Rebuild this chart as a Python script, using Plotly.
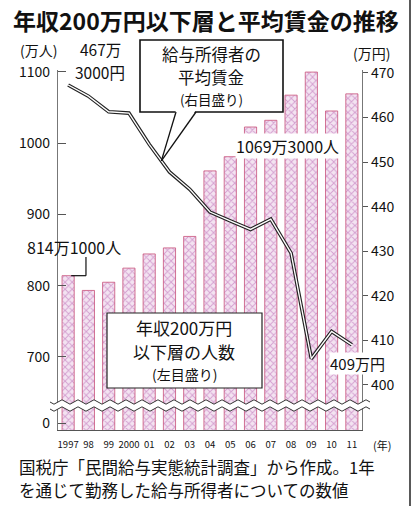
import math
import plotly.graph_objects as go

# ---- data ----
years = ['1997', '98', '99', '2000', '01', '02', '03', '04', '05', '06', '07', '08', '09', '10', '11']
low_income = [814.1, 793.4, 804.9, 824.7, 844.6, 853.1, 869.2, 961.2, 981.1,
              1022.8, 1032.2, 1067.5, 1099.9, 1045.3, 1069.3]          # 万人
avg_wage = [467.3, 464.8, 461.3, 461.0, 454.0, 447.8, 443.9, 438.8, 436.8,
            434.9, 437.2, 429.6, 405.9, 412.0, 409.0]                  # 万円
left_tickvals = [607, 700, 800, 900, 1000, 1100]
left_ticktext = ['0', '700', '800', '900', '1000', '1100']
right_tickvals = [400, 410, 420, 430, 440, 450, 460, 470]

FONT = 'Noto Sans CJK JP'
W, H = 414, 506
L, R, T, B = 58, 52, 70, 76
PW, PH = W - L - R, H - T - B
Y1 = [597.5, 1102.8]
Y2 = [389.9, 470.67]
xs = list(range(len(years)))


def fx(px):
    return (px - L) / PW


def fy(py):
    return (T + PH - py) / PH


def dx(i):
    return (i + 0.5) / len(years)


def dy2(v):
    return (v - Y2[0]) / (Y2[1] - Y2[0])


def dy1(v):
    return (v - Y1[0]) / (Y1[1] - Y1[0])


def man_label(v, unit):
    man = int(v)
    rest = round((v - man) * 10000)
    return f'{man}万{rest}{unit}' if rest else f'{man}万{unit}'


fig = go.Figure()
fig.add_trace(go.Bar(
    x=xs, y=low_income, width=0.6,
    marker=dict(color='#f3e3f1',
                pattern=dict(shape='x', fgcolor='#b45cae', size=5, solidity=0.35),
                line=dict(color='#c8507a', width=0.8)),
    hoverinfo='skip'))
fig.add_trace(go.Scatter(x=xs, y=avg_wage, yaxis='y2', mode='lines',
                         line=dict(color='#222222', width=3.6), hoverinfo='skip'))
fig.add_trace(go.Scatter(x=xs, y=avg_wage, yaxis='y2', mode='lines',
                         line=dict(color='#ffffff', width=1.3), hoverinfo='skip'))

shapes = []

# axis break across the bottom of the bars
top_pts, bot_pts = [], []
for k in range(0, 81):
    px = 50 + k * 4
    w = 2.2 * math.sin(k * math.pi / 2)
    top_pts.append((px, 402 + w))
    bot_pts.append((px, 409 + w))
band = 'M ' + ' L '.join(f'{fx(a):.4f},{fy(b):.4f}' for a, b in top_pts)
band += ' L ' + ' L '.join(f'{fx(a):.4f},{fy(b):.4f}' for a, b in reversed(bot_pts)) + ' Z'
shapes.append(dict(type='path', path=band, xref='paper', yref='paper',
                   fillcolor='white', line=dict(width=0), layer='above'))
for pts in (top_pts, bot_pts):
    p = 'M ' + ' L '.join(f'{fx(a):.4f},{fy(b):.4f}' for a, b in pts)
    shapes.append(dict(type='path', path=p, xref='paper', yref='paper',
                       line=dict(color='#333', width=1), layer='above'))

# callout box: average wage (right scale)
shapes.append(dict(type='rect', xref='paper', yref='paper',
                   x0=fx(140), x1=fx(283), y0=fy(112), y1=fy(40),
                   fillcolor='white', line=dict(color='#111', width=1.6), layer='above'))
tip_x = 4.6
tip_y = avg_wage[4] + (avg_wage[5] - avg_wage[4]) * 0.6
tri = (f'M {fx(176):.4f},{fy(110):.4f} L {dx(tip_x):.4f},{dy2(tip_y):.4f} '
       f'L {fx(196):.4f},{fy(110):.4f} Z')
shapes.append(dict(type='path', path=tri, xref='paper', yref='paper',
                   fillcolor='white', line=dict(width=0), layer='above'))
for sx in (176, 196):
    shapes.append(dict(type='line', xref='paper', yref='paper',
                       x0=fx(sx), y0=fy(112), x1=dx(tip_x), y1=dy2(tip_y),
                       line=dict(color='#111', width=1.3), layer='above'))

# callout box: people earning 2M yen or less (left scale)
shapes.append(dict(type='rect', xref='paper', yref='paper',
                   x0=fx(107), x1=fx(262), y0=fy(388), y1=fy(313),
                   fillcolor='white', line=dict(color='#222', width=1.2), layer='above'))

# leader from the 1997 count label down to its bar
lead_x = 0.88
shapes.append(dict(type='line', xref='paper', yref='paper',
                   x0=dx(lead_x), x1=dx(lead_x), y0=fy(257), y1=dy1(low_income[0]),
                   line=dict(color='#111', width=1.2), layer='above'))
shapes.append(dict(type='line', xref='paper', yref='paper',
                   x0=dx(lead_x), x1=dx(0.15), y0=dy1(low_income[0]), y1=dy1(low_income[0]),
                   line=dict(color='#111', width=1.2), layer='above'))

# frame line at the right edge
shapes.append(dict(type='line', xref='paper', yref='paper',
                   x0=fx(410), x1=fx(410), y0=fy(0), y1=fy(H),
                   line=dict(color='#222', width=1.5), layer='above'))


def ann(text, px, py, size, xanchor='center', bold=False, bg=None):
    d = dict(text=f'<b>{text}</b>' if bold else text, x=fx(px), y=fy(py),
             xref='paper', yref='paper', xanchor=xanchor, yanchor='middle',
             showarrow=False, font=dict(family=FONT, size=size, color='#111'))
    if bg:
        d['bgcolor'] = bg
        d['borderpad'] = 0
    return d


w0 = man_label(avg_wage[0], '円')
w0a, w0b = w0.split('万')
annotations = [
    ann('年収200万円以下層と平均賃金の推移', 206, 20, 23, bold=True),
    ann('(万人)', 38, 50, 14),
    ann('(万円)', 371, 53, 14),
    ann(w0a + '万', 100, 49, 15.5),
    ann(w0b, 100, 72, 15.5),
    ann('給与所得者の', 211, 54, 16.5),
    ann('平均賃金', 211, 77, 16.5),
    ann('(右目盛り)', 211, 99, 13.5),
    ann(man_label(low_income[-1], '人'), 287, 146, 16, bg='white'),
    ann(man_label(low_income[0], '人'), 74, 247, 16),
    ann('年収200万円', 184, 327, 17),
    ann('以下層の人数', 184, 351, 17),
    ann('(左目盛り)', 184, 374, 14),
    ann(man_label(avg_wage[-1], '円'), 357, 363, 15, bg='white'),
    ann('(年)', 382, 445, 11),
    ann('国税庁「民間給与実態統計調査」から作成。1年', 17, 467, 16.5, xanchor='left'),
    ann('を通じて勤務した給与所得者についての数値', 17, 490, 16.5, xanchor='left'),
]

fig.update_layout(
    width=W, height=H, margin=dict(l=L, r=R, t=T, b=B, pad=0),
    paper_bgcolor='white', plot_bgcolor='white', showlegend=False,
    bargap=0.4,
    font=dict(family=FONT, color='#111'),
    xaxis=dict(range=[-0.5, len(years) - 0.5], tickvals=xs, ticktext=years,
               showgrid=False, zeroline=False, showline=True, linecolor='#555',
               linewidth=1, ticks='', tickangle=0, ticklabelstandoff=6,
               tickfont=dict(size=9.5, family=FONT)),
    yaxis=dict(range=Y1, tickvals=left_tickvals, ticktext=left_ticktext,
               showgrid=False, zeroline=False, showline=True, linecolor='#777',
               linewidth=1.2, ticks='inside', ticklen=8, tickcolor='#555',
               tickfont=dict(size=14, family=FONT), ticklabelstandoff=4),
    yaxis2=dict(range=Y2, tickvals=right_tickvals, overlaying='y', side='right',
                showgrid=False, zeroline=False, showline=True, linecolor='#777',
                linewidth=1.2, ticks='outside', ticklen=5, tickcolor='#555',
                tickfont=dict(size=14, family=FONT)),
    shapes=shapes, annotations=annotations,
)

fig.write_html('out.html')
